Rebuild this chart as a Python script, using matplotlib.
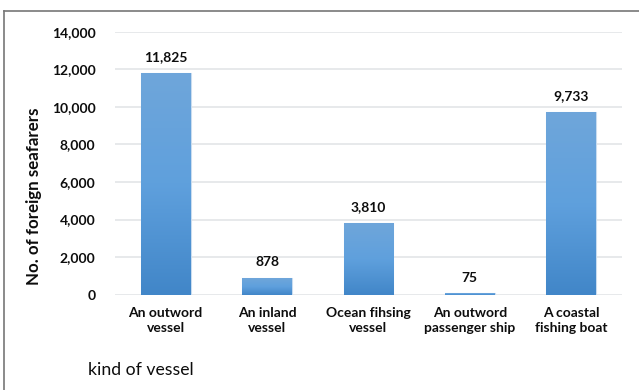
import matplotlib
matplotlib.use("Agg")
import matplotlib.pyplot as plt
from matplotlib.ticker import FuncFormatter
from matplotlib.lines import Line2D
import numpy as np

plt.rcParams['font.family'] = ['Lato', 'DejaVu Sans']

categories = ["An outword\nvessel", "An inland\nvessel", "Ocean fihsing\nvessel",
              "An outword\npassenger ship", "A coastal\nfishing boat"]
seafarers = [11825, 878, 3810, 75, 9733]
y_ticks = [0, 2000, 4000, 6000, 8000, 10000, 12000, 14000]

fig = plt.figure(figsize=(6.39, 3.9), dpi=100)
ax = fig.add_axes([0.18, 0.2444, 0.793, 0.6743])

x = np.arange(len(categories))
bars = ax.bar(x, seafarers, width=0.49, color="#5b9bd5", edgecolor="#c9dcef",
              linewidth=0.8, zorder=2)

# vertical gradient inside each bar, lighter at the top
grad = np.linspace(0, 1, 256).reshape(-1, 1)
cmap = matplotlib.colors.LinearSegmentedColormap.from_list("g", ["#4186c8", "#5fa0dd", "#6fa6da"])
for b in bars:
    x0, w, h = b.get_x(), b.get_width(), b.get_height()
    im = ax.imshow(grad, cmap=cmap, aspect="auto", origin="lower",
                   extent=[x0, x0 + w, 0, h], zorder=2.5)
    im.set_clip_path(b)

for xi, v in zip(x, seafarers):
    ax.annotate(f"{v:,}", (xi, v), xytext=(0, 7), textcoords="offset points",
                ha="center", va="bottom", fontsize=10, fontweight="bold", color="#0d0d0d")

ax.set_xlim(-0.5, len(categories) - 0.5)
ax.set_ylim(0, 14000)
ax.set_yticks(y_ticks)
ax.yaxis.set_major_formatter(FuncFormatter(lambda v, p: f"{int(v):,}"))
ax.set_xticks(x)
ax.set_xticklabels(categories, fontsize=10, fontweight="bold", color="#0d0d0d", linespacing=1.3)
ax.tick_params(axis="y", labelsize=10, colors="#0d0d0d", length=0, pad=14)
ax.tick_params(axis="x", length=0, pad=9)
for lbl in ax.get_yticklabels():
    lbl.set_fontweight("bold")
ax.grid(axis="y", color="#e3e5e8", linewidth=1.2, zorder=0)
ax.set_axisbelow(True)
for s in ax.spines.values():
    s.set_visible(False)

fig.text(0.053, 0.497, "No. of foreign seafarers", rotation=90, ha="center", va="center",
         fontsize=12.2, fontweight="bold", color="#0d0d0d")
fig.text(0.138, 0.051, "kind of vessel", ha="left", va="center", fontsize=12.7, color="#0d0d0d")

# chart border (left and top edges visible)
fig.add_artist(Line2D([0.0063, 0.0063], [0, 0.971], color="#777777", linewidth=1.2))
fig.add_artist(Line2D([0.0063, 1], [0.971, 0.971], color="#777777", linewidth=1.2))

fig.savefig("out.png", dpi=100)
